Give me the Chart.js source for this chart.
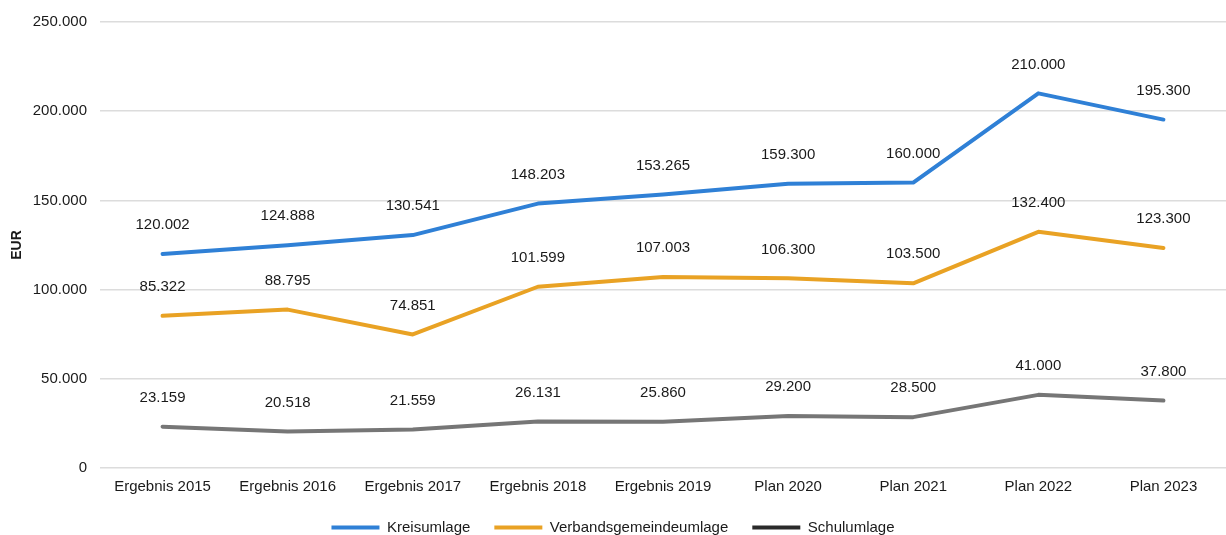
<!DOCTYPE html>
<html>
<head>
<meta charset="utf-8">
<script src="https://cdn.jsdelivr.net/npm/chart.js@4/dist/chart.umd.min.js"></script>
<style>
  html, body { margin: 0; padding: 0; background: #fff; }
  #wrap { width: 1226px; height: 535px; }
</style>
</head>
<body>
<div id="wrap"><canvas id="umlagenChart" width="1226" height="535"></canvas></div>
<script>
const categories = ['Ergebnis 2015', 'Ergebnis 2016', 'Ergebnis 2017', 'Ergebnis 2018', 'Ergebnis 2019', 'Plan 2020', 'Plan 2021', 'Plan 2022', 'Plan 2023'];
const kreisumlage = [120002, 124888, 130541, 148203, 153265, 159300, 160000, 210000, 195300];
const verbandsgemeindeumlage = [85322, 88795, 74851, 101599, 107003, 106300, 103500, 132400, 123300];
const schulumlage = [23159, 20518, 21559, 26131, 25860, 29200, 28500, 41000, 37800];
const yTicks = [0, 50000, 100000, 150000, 200000, 250000];

const fmt = v => v.toLocaleString('de-DE');

// Werte über den Punkten anzeigen
const valueLabels = {
  id: 'valueLabels',
  afterDatasetsDraw(chart) {
    const ctx = chart.ctx;
    ctx.save();
    ctx.font = '15px "Liberation Sans", Arial, sans-serif';
    ctx.fillStyle = '#1a1a1a';
    ctx.textAlign = 'center';
    ctx.textBaseline = 'middle';
    chart.data.datasets.forEach((ds, i) => {
      chart.getDatasetMeta(i).data.forEach((pt, j) => {
        ctx.fillText(fmt(ds.data[j]), pt.x, pt.y - 29);
      });
    });
    ctx.restore();
  }
};

Chart.defaults.font.family = '"Liberation Sans", Arial, sans-serif';
Chart.defaults.font.size = 15;
Chart.defaults.color = '#1a1a1a';

const legendColors = ['#2f80d6', '#e9a224', '#2a2a2a'];

const ctx = document.getElementById('umlagenChart').getContext('2d');
new Chart(ctx, {
  type: 'line',
  data: {
    labels: categories,
    datasets: [
      { label: 'Kreisumlage', data: kreisumlage, borderColor: '#2f80d6' },
      { label: 'Verbandsgemeindeumlage', data: verbandsgemeindeumlage, borderColor: '#e9a224' },
      { label: 'Schulumlage', data: schulumlage, borderColor: '#767676' }
    ].map(d => Object.assign(d, {
      borderWidth: 4, pointRadius: 0, tension: 0, fill: false,
      borderJoinStyle: 'round', borderCapStyle: 'round'
    }))
  },
  options: {
    responsive: false,
    animation: false,
    layout: { padding: { top: 10, right: 0, left: 0, bottom: -10 } },
    plugins: {
      legend: {
        position: 'bottom',
        labels: {
          boxWidth: 48, boxHeight: 4, padding: 24,
          generateLabels: chart => chart.data.datasets.map((ds, i) => ({
            text: ds.label,
            fillStyle: legendColors[i],
            strokeStyle: legendColors[i],
            lineWidth: 0,
            fontColor: '#1a1a1a',
            datasetIndex: i,
            hidden: false
          }))
        }
      },
      tooltip: { enabled: false }
    },
    scales: {
      x: {
        offset: true,
        grid: { display: false, drawTicks: false },
        border: { display: false },
        ticks: { padding: 10, maxRotation: 0 },
        afterFit: axis => { axis.height = 28; }
      },
      y: {
        min: 0,
        max: 250000,
        afterBuildTicks: axis => { axis.ticks = yTicks.map(v => ({ value: v })); },
        title: { display: true, text: 'EUR', font: { size: 14, weight: 'bold' }, padding: { top: 9, bottom: 4 } },
        grid: { color: '#dcdcdc', lineWidth: 1.5, drawTicks: false },
        border: { display: false },
        ticks: { padding: 13, callback: v => fmt(v) },
        afterFit: axis => { axis.width = 100; }
      }
    }
  },
  plugins: [valueLabels]
});
</script>
</body>
</html>
